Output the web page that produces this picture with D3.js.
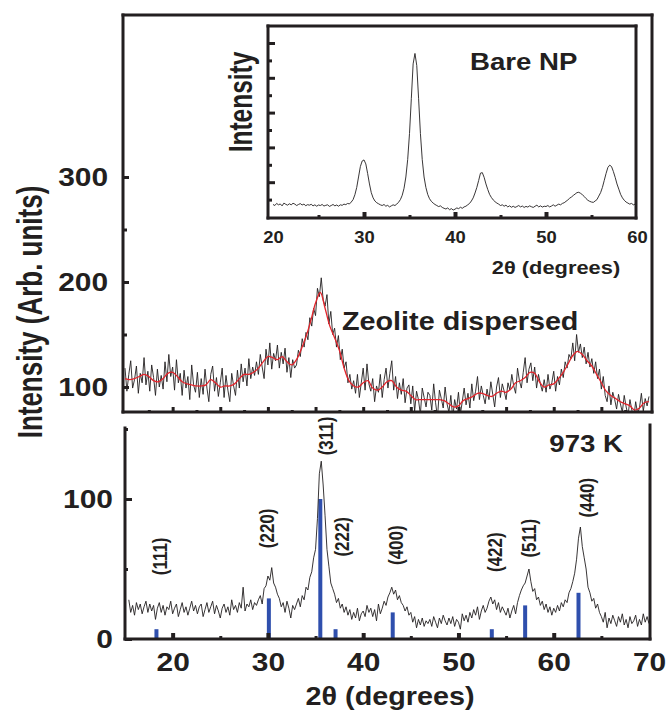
<!DOCTYPE html>
<html>
<head>
<meta charset="utf-8">
<script src="https://cdn.jsdelivr.net/npm/d3@7"></script>
<style>
	body { margin: 0; background: #fff; }
	text { font-family: "Liberation Sans", Arial, sans-serif; font-weight: bold; fill: #231f20; }
</style>
</head>
<body>
<div id="chart"></div>
<script>
(function () {
	"use strict";

	// zeolite dispersed sample, 2θ = 15 .. 70 every 0.2°
	var zeoliteStart = 15, zeoliteStep = 0.2;
	var zeoliteCounts = [
		118, 96, 112, 125, 99, 107, 120, 94, 113, 104,
		128, 102, 115, 96, 121, 109, 92, 117, 100, 111,
		98, 124, 105, 131, 110, 119, 97, 126, 104, 113,
		92, 116, 99, 110, 88, 121, 102, 95, 114, 90,
		108, 93, 117, 99, 86, 112, 120, 96, 109, 91,
		104, 118, 90, 111, 97, 86, 113, 101, 92, 116,
		99, 122, 105, 118, 101, 127, 108, 119, 111, 124,
		112, 131, 119, 108, 136, 121, 142, 117, 132, 125,
		140, 118, 133, 122, 137, 114, 128, 109, 126, 118,
		121, 135, 129, 146, 138, 152, 145, 166, 158, 175,
		168, 194, 186, 204, 183, 177, 188, 160, 172, 150,
		156, 138, 149, 126, 136, 118, 124, 104, 112, 98,
		106, 94, 112, 90, 104, 118, 97, 122, 103, 96,
		108, 86, 101, 95, 112, 90, 107, 118, 99, 113,
		125, 97, 110, 89, 104, 93, 108, 85, 99, 102,
		84, 101, 77, 96, 88, 74, 99, 90, 81, 95,
		92, 78, 103, 85, 71, 97, 89, 80, 100, 84,
		76, 92, 70, 88, 79, 95, 74, 86, 99, 83,
		94, 80, 103, 87, 96, 110, 88, 101, 92, 84,
		98, 88, 105, 93, 81, 100, 109, 90, 103, 96,
		88, 104, 97, 112, 101, 94, 118, 106, 99, 114,
		128, 104, 117, 123, 106, 119, 99, 112, 103, 96,
		107, 95, 112, 98, 104, 115, 96, 110, 102, 117,
		109, 124, 118, 131, 127, 142, 125, 150, 133, 141,
		128, 138, 122, 133, 119, 127, 113, 124, 108, 117,
		98, 110, 92, 86, 101, 83, 95, 88, 79, 93,
		84, 76, 92, 81, 73, 88, 78, 70, 86, 75,
		80, 94, 77, 89, 82, 91
	];

	// smoothed fit of the zeolite pattern (red), every 0.5°
	var fitStart = 15, fitStep = 0.5;
	var fitCounts = [
		108, 107, 108, 110, 112, 110, 106, 105, 108, 113,
		114, 110, 105, 103, 102, 101, 101, 102, 107, 104,
		100, 101, 101, 103, 108, 112, 112, 114, 118, 124,
		129, 128, 126, 129, 124, 121, 126, 136, 148, 163,
		180, 190, 175, 158, 147, 135, 118, 106, 101, 100,
		104, 106, 99, 97, 100, 105, 106, 100, 97, 96,
		92, 88, 88, 88, 88, 88, 88, 87, 84, 81,
		82, 87, 89, 91, 94, 94, 92, 91, 94, 96,
		95, 98, 104, 106, 109, 114, 113, 105, 100, 102,
		103, 108, 114, 122, 130, 134, 131, 125, 120, 112,
		104, 96, 92, 89, 86, 84, 82, 78, 80, 85,
		86
	];

	// bare nanoparticles (inset), 2θ = 20 .. 60 every 0.2°
	var bareStart = 20, bareStep = 0.2;
	var bareCounts = [
		72, 66, 78, 70, 75, 64, 80, 73, 68, 76,
		70, 79, 74, 66, 72, 77, 69, 74, 65, 71,
		68, 73, 64, 70, 62, 69, 66, 72, 63, 67,
		70, 61, 66, 72, 64, 69, 62, 70, 67, 74,
		71, 78, 75, 86, 100, 128, 170, 230, 290, 322,
		328, 305, 250, 190, 140, 110, 92, 82, 76, 70,
		66, 72, 62, 67, 58, 64, 70, 66, 74, 85,
		100, 125, 165, 230, 330, 480, 680, 880, 940, 870,
		680, 480, 330, 230, 170, 130, 105, 90, 80, 72,
		66, 60, 64, 55, 50, 46, 52, 42, 48, 40,
		45, 52, 48, 56, 50, 58, 62, 70, 78, 92,
		110, 138, 170, 210, 252, 255, 228, 190, 158, 130,
		112, 98, 88, 80, 74, 66, 70, 62, 68, 58,
		64, 56, 62, 55, 60, 66, 58, 63, 55, 61,
		57, 64, 59, 55, 62, 68, 58, 64, 57, 62,
		60, 66, 58, 63, 70, 62, 68, 74, 70, 78,
		82, 90, 98, 108, 115, 124, 132, 140, 142, 136,
		128, 118, 106, 96, 90, 86, 84, 92, 100, 120,
		140, 170, 210, 250, 285, 298, 290, 262, 228, 190,
		160, 130, 110, 96, 86, 80, 74, 78, 70, 74,
		76
	];

	// annealed at 973 K, 2θ = 15.4 .. 70 every 0.2°
	var annealStart = 15.4, annealStep = 0.2;
	var annealCounts = [
		28, 19, 24, 17, 26, 21, 25, 18,
		23, 27, 19, 25, 20, 24, 14, 22, 26, 19,
		24, 17, 23, 21, 27, 18, 22, 25, 16, 21,
		26, 19, 23, 17, 22, 27, 20, 24, 18, 23,
		25, 16, 21, 26, 19, 23, 27, 18, 24, 20,
		15, 22, 25, 19, 23, 17, 28, 21, 24, 19,
		26, 22, 37, 20, 25, 23, 28, 21, 26, 24,
		28, 31, 25, 36, 38, 45, 42, 51, 40, 37,
		32, 29, 23, 26, 19, 27, 22, 15, 24, 21,
		25, 29, 23, 31, 28, 37, 35, 44, 48, 58,
		64, 86, 118, 127, 110, 88, 64, 52, 40, 36,
		32, 26, 29, 22, 25, 19, 23, 17, 21, 14,
		19, 15, 22, 13, 18, 20, 16, 24, 19, 22,
		16, 21, 13, 25, 18, 22, 27, 24, 30, 33,
		37, 32, 35, 28, 31, 26, 24, 20, 23, 17,
		19, 12, 16, 8, 14, 10, 15, 9, 13, 11,
		14, 9, 16, 12, 8, 15, 11, 17, 13, 10,
		15, 11, 16, 9, 14, 12, 7, 18, 13, 17,
		12, 19, 15, 21, 17, 23, 14, 20, 24, 19,
		22, 27, 30, 25, 28, 21, 26, 19, 23, 20,
		17, 22, 15, 20, 24, 18, 26, 31, 35, 38,
		40, 45, 50, 41, 34, 36, 28, 30, 24, 27,
		21, 25, 19, 23, 17, 22, 19, 24, 20, 26,
		23, 28, 26, 33, 36, 41, 47, 57, 72, 80,
		66, 58, 50, 37, 33, 27, 29, 22, 25, 19,
		16, 12, 19, 8, 15, 11, 17, 13, 9, 16,
		12, 18, 10, 14, 8, 16, 11, 13, 17, 9,
		14, 10, 18, 12, 16, 11
	];

	// reference pattern (blue sticks)
	var refPlanes = ['(111)', '(220)', '(311)', '(222)', '(400)', '(422)', '(511)', '(440)'];
	var refAngles = [18.3, 30.1, 35.5, 37.1, 43.1, 53.5, 57.0, 62.6];
	var refIntensity = [7, 29, 100, 7, 19, 7, 24, 33];

	var topYTicks = [100, 200, 300];
	var bottomYTicks = [0, 100];
	var bottomXTicks = [20, 30, 40, 50, 60, 70];
	var insetXTicks = [20, 30, 40, 50, 60];

	var SX = 1.15; // the original figure is a little wider than tall
	var RX = 1.35; // rotated titles look even wider

	var svg = d3.select('#chart')
		.append('svg')
		.attr('width', 667)
		.attr('height', 712);

	var x = d3.scaleLinear().domain([15, 70]).range([125, 649]);
	var yTop = d3.scaleLinear().domain([100, 300]).range([387, 177]);
	var yBot = d3.scaleLinear().domain([0, 150]).range([639, 429]);
	var xIn = d3.scaleLinear().domain([20, 60]).range([273, 637]);
	var yIn = d3.scaleLinear().domain([0, 1000]).range([217, 43]);

	function series(start, step, values) {
		return values.map(function (v, i) { return [start + i * step, v]; });
	}

	function label(g, text, px, py, size, anchor, rotated) {
		return g.append('text')
			.attr('transform', 'translate(' + px + ',' + py + ') scale(' + (rotated ? RX : SX) + ',1)' + (rotated ? ' rotate(-90)' : ''))
			.attr('text-anchor', anchor || 'start')
			.style('font-size', size + 'px')
			.text(text);
	}

	function ticks(g, axis, strokeWidth) {
		g.call(axis);
		g.select('.domain').remove();
		g.selectAll('line').attr('stroke', '#231f20').attr('stroke-width', strokeWidth);
		g.selectAll('text')
			.attr('fill', null)
			.attr('font-family', null)
			.attr('font-size', null);
		return g;
	}

	function frameLine(g, x1, y1, x2, y2) {
		g.append('line')
			.attr('x1', x1).attr('y1', y1).attr('x2', x2).attr('y2', y2)
			.attr('stroke', '#231f20')
			.attr('stroke-width', 3)
			.attr('stroke-linecap', 'square');
	}

	renderTop(svg.append('g'));
	renderInset(svg.append('g'));
	renderBottom(svg.append('g'));

	label(svg, 'Intensity (Arb. units)', 42, 312, 26, 'middle', true);

	function renderTop(g) {
		g.append('clipPath').attr('id', 'clip-top')
			.append('rect').attr('x', 123).attr('y', 15).attr('width', 529).attr('height', 397);

		var line = d3.line()
			.x(function (d) { return x(d[0]); })
			.y(function (d) { return yTop(d[1]); });

		var plot = g.append('g').attr('clip-path', 'url(#clip-top)');

		plot.append('path')
			.datum(series(zeoliteStart, zeoliteStep, zeoliteCounts))
			.attr('fill', 'none')
			.attr('stroke', '#231f20')
			.attr('stroke-width', 0.9)
			.attr('d', line);

		plot.append('path')
			.datum(series(fitStart, fitStep, fitCounts))
			.attr('fill', 'none')
			.attr('stroke', '#e3242b')
			.attr('stroke-width', 1.3)
			.attr('d', line.curve(d3.curveCatmullRom));

		ticks(g.append('g').attr('transform', 'translate(0,412)'),
			d3.axisBottom(x).tickValues([20, 25, 30, 35, 40, 45, 50, 55, 60, 65]).tickSize(-5).tickFormat(''), 3);
		ticks(g.append('g').attr('transform', 'translate(0,412)'),
			d3.axisBottom(x).tickValues([17.5, 22.5, 27.5, 32.5, 37.5, 42.5, 47.5, 52.5, 57.5, 62.5, 67.5]).tickSize(-2).tickFormat(''), 3);

		var yAxis = ticks(g.append('g').attr('transform', 'translate(123,0)'),
			d3.axisLeft(yTop).tickValues(topYTicks).tickSize(-6).tickPadding(13).tickFormat(d3.format('d')), 3);
		yAxis.selectAll('text')
			.attr('transform', 'scale(' + SX + ',1)')
			.style('font-size', '26px');
		ticks(g.append('g').attr('transform', 'translate(123,0)'),
			d3.axisLeft(yTop).tickValues([150, 250]).tickSize(-4).tickFormat(''), 3);

		frameLine(g, 123, 15, 652, 15);
		frameLine(g, 123, 15, 123, 412);
		frameLine(g, 652, 15, 652, 412);
		frameLine(g, 123, 412, 652, 412);

		label(g, 'Zeolite dispersed', 342, 330, 25, 'start');
	}

	function renderInset(g) {
		g.append('rect')
			.attr('x', 268).attr('y', 26).attr('width', 368).attr('height', 192)
			.attr('fill', '#fff');

		g.append('clipPath').attr('id', 'clip-inset')
			.append('rect').attr('x', 268).attr('y', 26).attr('width', 368).attr('height', 192);

		var line = d3.line()
			.x(function (d) { return xIn(d[0]); })
			.y(function (d) { return yIn(d[1]); });

		g.append('g').attr('clip-path', 'url(#clip-inset)')
			.append('path')
			.datum(series(bareStart, bareStep, bareCounts))
			.attr('fill', 'none')
			.attr('stroke', '#231f20')
			.attr('stroke-width', 0.9)
			.attr('d', line);

		ticks(g.append('g').attr('transform', 'translate(0,218)'),
			d3.axisBottom(xIn).tickValues([30, 40, 50]).tickSize(-6).tickFormat(''), 4);
		ticks(g.append('g').attr('transform', 'translate(0,218)'),
			d3.axisBottom(xIn).tickValues([25, 35, 45, 55]).tickSize(-3).tickFormat(''), 3);
		ticks(g.append('g').attr('transform', 'translate(268,0)'),
			d3.axisLeft(yIn).tickValues([200, 400, 600, 800, 1000]).tickSize(-7).tickFormat(''), 3);
		ticks(g.append('g').attr('transform', 'translate(268,0)'),
			d3.axisLeft(yIn).tickValues([100, 300, 500, 700, 900]).tickSize(-4).tickFormat(''), 3);

		var xLabels = ticks(g.append('g').attr('transform', 'translate(0,218)'),
			d3.axisBottom(xIn).tickValues(insetXTicks).tickSize(0).tickPadding(14).tickFormat(d3.format('d')), 0);
		xLabels.selectAll('text')
			.attr('transform', 'scale(' + SX + ',1)')
			.style('font-size', '16px');

		frameLine(g, 268, 26, 636, 26);
		frameLine(g, 268, 26, 268, 218);
		frameLine(g, 636, 26, 636, 218);
		frameLine(g, 268, 218, 636, 218);

		label(g, 'Bare NP', 470, 70, 24, 'start');
		label(g, 'Intensity', 252, 102, 24.5, 'middle', true);
		label(g, '2\u03b8 (degrees)', 556, 274, 19, 'middle');
	}

	function renderBottom(g) {
		var line = d3.line()
			.x(function (d) { return x(d[0]); })
			.y(function (d) { return yBot(d[1]); });

		g.selectAll('rect.ref')
			.data(refAngles)
			.enter()
			.append('rect')
			.classed('ref', true)
			.attr('x', function (a) { return x(a) - 2; })
			.attr('width', 4)
			.attr('y', function (a, i) { return yBot(refIntensity[i]); })
			.attr('height', function (a, i) { return yBot(0) - yBot(refIntensity[i]); })
			.attr('fill', '#2f4fad');

		g.append('path')
			.datum(series(annealStart, annealStep, annealCounts))
			.attr('fill', 'none')
			.attr('stroke', '#231f20')
			.attr('stroke-width', 0.9)
			.attr('d', line);

		// where each (hkl) label sits: [2θ, intensity] of the label centre
		var hklSpots = [[18.7, 59], [29.95, 79], [36.05, 145], [37.8, 73], [43.4, 67], [53.8, 62], [57.4, 72], [63.5, 101]];
		g.selectAll('text.hkl')
			.data(refPlanes)
			.enter()
			.append('text')
			.classed('hkl', true)
			.attr('transform', function (p, i) {
				return 'translate(' + x(hklSpots[i][0]) + ',' + yBot(hklSpots[i][1]) + ') scale(' + SX + ',1) rotate(-90)';
			})
			.attr('text-anchor', 'middle')
			.attr('dy', '0.36em')
			.style('font-size', '17px')
			.text(function (p) { return p; });

		ticks(g.append('g').attr('transform', 'translate(0,639)'),
			d3.axisBottom(x).tickValues([20, 30, 40, 50, 60]).tickSize(-6).tickFormat(''), 4);
		ticks(g.append('g').attr('transform', 'translate(0,639)'),
			d3.axisBottom(x).tickValues([25, 35, 45, 55, 65]).tickSize(-3).tickFormat(''), 3);
		var xLabels = ticks(g.append('g').attr('transform', 'translate(0,639)'),
			d3.axisBottom(x).tickValues(bottomXTicks).tickSize(0).tickPadding(14).tickFormat(d3.format('d')), 0);
		xLabels.selectAll('text')
			.attr('transform', 'scale(' + SX + ',1)')
			.style('font-size', '26px');

		var yAxis = ticks(g.append('g').attr('transform', 'translate(125,0)'),
			d3.axisLeft(yBot).tickValues(bottomYTicks).tickSize(-7).tickPadding(10.5).tickFormat(d3.format('d')), 3);
		yAxis.selectAll('text')
			.attr('transform', 'scale(' + SX + ',1)')
			.style('font-size', '26px');
		ticks(g.append('g').attr('transform', 'translate(125,0)'),
			d3.axisLeft(yBot).tickValues([50, 150]).tickSize(-3).tickFormat(''), 3);

		frameLine(g, 125, 428, 125, 639);
		frameLine(g, 650, 425, 650, 639);
		frameLine(g, 125, 639, 650, 639);

		label(g, '973 K', 623, 452, 24, 'end');
		label(g, '2\u03b8 (degrees)', 390, 705, 25, 'middle');
	}
}());
</script>
</body>
</html>
